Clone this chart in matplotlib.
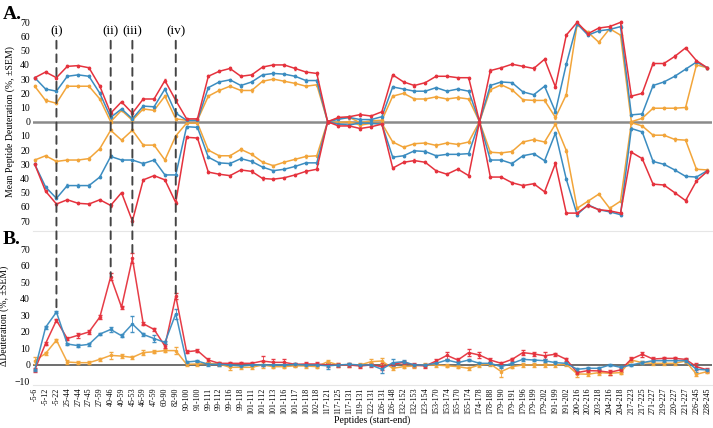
#importing the libraries:
import numpy as np
from matplotlib import pyplot as plt
from matplotlib.patches import ConnectionPatch

plt.rcParams['font.family'] = ['Liberation Serif', 'DejaVu Serif']

#peptide labels (start-end)
peptides = ['-5-6', '-5-12', '-5-22', '25-44', '27-44', '27-45', '27-59', '40-46', '40-59', '45-53',
            '46-59', '47-59', '60-90', '82-90', '90-100', '91-100', '99-111', '99-112', '99-116', '99-118',
            '101-111', '101-112', '101-113', '101-116', '101-117', '101-118', '102-118', '117-121', '117-125',
            '117-131', '119-131', '122-131', '126-131', '126-148', '132-152', '132-153', '123-154', '153-170',
            '153-174', '155-170', '155-174', '174-178', '178-188', '179-190', '179-191', '179-196', '179-199',
            '179-202', '191-199', '191-202', '200-216', '202-216', '203-218', '204-216', '204-218', '217-223',
            '217-225', '271-227', '219-227', '220-227', '221-227', '226-245', '228-245']

#panel A, upper half (mean deuteration, %)
up_red = [31, 35, 31, 39, 39.5, 38, 25, 6, 14, 6, 16, 16, 29, 15, 2, 2, 32, 35.5, 37.5, 32,
          33, 38.5, 40, 40, 37.5, 35, 34, 0, 3, 3.5, 5, 4, 7, 33, 28, 25.5, 27.5, 32, 32, 31,
          31, 0, 36, 38, 40.5, 39, 37.5, 44, 24.5, 61, 70, 62, 66, 67, 70, 18, 20, 41, 41, 46,
          52, 43, 38]
up_blue = [31, 23, 21.5, 32, 33, 32, 20, 3, 9, 2, 11, 10.5, 23, 6, 1, 1, 24, 28, 29.5, 25.5,
           28, 33, 34, 33.5, 32, 29, 29, 0, 1.7, 3, 1.5, 1.5, 3.5, 24.5, 23, 21.5, 21.5, 24, 21.5, 23,
           21.5, 0, 25.5, 28, 27.5, 21, 19, 25, 7, 40.5, 69, 61, 64, 65, 67, 4.8, 5.5, 25.5, 28, 32,
           37, 42, 38]
up_orange = [25, 15, 13, 25, 25, 25, 16, 0, 8, 1, 9, 8, 18, 2, 1, 1, 18, 22, 25, 22,
             22, 28.5, 30, 28.5, 27, 25, 26, 0, 2.5, 3, -0.7, 0.7, 1, 18, 20, 16, 16, 17.5, 16, 17,
             16, 0, 22.5, 26, 22.5, 15.5, 15, 15, 3, 19, 68.5, 63, 56, 65.5, 61, 0, 2.4, 9.5, 9.5, 9.5,
             10, 40, 38]

#panel A, lower half (plotted downwards)
low_red = [30, 49, 58, 55, 57.5, 58, 55, 59, 50, 70, 41, 38, 41, 57, 11, 11.5, 35.5, 37, 38, 34,
           35, 40, 40.5, 39.5, 37.5, 35, 33.5, 0, 3, 3, 4.8, 3.6, 1.7, 32.7, 28.6, 27.4, 28.6, 34.6, 37, 33.4,
           38, 0, 39, 39, 43, 45, 43.7, 49.4, 29.4, 64.4, 64.4, 59, 62, 62.8, 64.4, 21.5, 26, 44, 44.6, 50,
           55.6, 41.8, 35]
low_blue = [30, 46, 54, 45, 45, 45, 39, 24.5, 27, 27, 29.5, 27, 37.5, 37.5, 3.5, 4, 25, 29, 29.5, 26,
            28, 32, 34.5, 33.5, 31.5, 29, 29, 0, 1.7, 2.4, 0.8, 1.2, 1.7, 25, 24, 20.5, 21, 24, 23, 23,
            22.5, 0, 27, 27, 29.5, 24, 22.5, 27.5, 8, 40.5, 65.5, 58.5, 62, 63.5, 65.5, 4.8, 7.2, 28, 30, 34,
            38.5, 39, 34.5]
low_orange = [27, 24, 28, 27, 27, 26, 19, 6, 13, 6, 16.5, 16.5, 27, 10, 1, 1, 20, 24, 24, 19.5,
              23, 28.5, 31, 28.5, 26.5, 24.5, 24, 0, 0.5, 0, 2.4, 1.2, 1.2, 14.3, 18, 15.5, 15, 16.7, 15, 16,
              14.3, 0, 21.5, 22, 21, 14.3, 12.6, 14.3, 1.7, 20.3, 61, 56, 51, 61, 56, 0.7, 3, 9.5, 9.5, 12.5,
              13, 33.5, 34]
sem_a = 0.8

#panel B, difference in deuteration
d_red = [-3, 13, 27, 16, 18, 20, 29, 53.4, 35, 64.5, 25, 21.5, 11.5, 41.7, 8, 8.7, 3, 1, 1, 1,
         1, 2.4, 1.6, 1.6, 0.4, 0.6, 0.6, 0, 0, 0, -0.6, 0, -1, 0.4, 1.6, 0, -0.6, 2.4, 5.8, 3,
         7.5, 6, 3, 1, 3.4, 7.5, 6.7, 5.6, 6.5, 3.4, -4.6, -3.4, -3.6, -4.4, -3, 3.6, 6.5, 3.6, 4, 4,
         3.4, -1, -3]
d_blue = [-3, 22.8, 32, 12.7, 11.7, 12.5, 18.7, 21.5, 17.7, 24.8, 18.5, 16, 13.7, 31, 1.8, 2.4, 0.4, 0.4, 0, -0.6,
          0, 0, 0, 0, 0.3, 0, 0, -0.5, 0, 0.4, 0, 0, -2.6, 1.4, 2, 0, 0, 1, 3, 1.4,
          3, 1, 1, -1, 1, 3.4, 3, 2.6, 1.4, 1, -2.6, -2, -2, 0, -1.4, 0, 1.4, 2.6, 2.6, 2.6,
          2.6, -2.6, -3]
d_orange = [2.6, 7, 15, 1.8, 1.4, 1.4, 3.4, 5.8, 5.4, 4.6, 7.5, 8, 8.7, 8.7, 0.4, 0.6, 1, 0.6, -1.4, -1.4,
            -1.4, 0, -1, -1, -0.5, -0.6, -1, 2, 0, 0, 0, 2, 2.4, -2, -1, -0.6, 0, 0, -0.5, -1,
            -2, 0, 0.6, -4, -1, 0, 0, 0, 0, 0.4, -5.4, -5.6, -4.6, -5, -4.6, 3, 1.4, 1, 1, 1,
            2.4, -5.6, -4]
err_red = [1, 1, 1, 1, 1.5, 1, 1, 2, 1, 3, 1, 1, 1, 2, 1, 1, 1, 1, 1, 1,
           1, 3, 2, 2, 1, 1, 1, 1, 1, 1, 1, 1, 2, 1, 1, 1, 1, 1, 2, 1,
           2, 2, 1, 1, 1, 1.5, 1, 2, 1, 1, 1, 1, 1, 1.5, 1, 1, 1.5, 1, 1, 1,
           1, 2, 1]
err_blue = [0.8, 0.8, 0.8, 0.8, 0.8, 0.8, 0.8, 1.5, 0.8, 5, 1, 2, 0.8, 3, 0.8, 0.8, 0.8, 0.8, 0.8, 0.8,
            0.8, 0.8, 0.8, 0.8, 0.8, 0.8, 0.8, 2, 0.8, 0.8, 0.8, 0.8, 2, 2, 0.8, 0.8, 0.8, 0.8, 0.8, 0.8,
            0.8, 0.8, 0.8, 0.8, 0.8, 0.8, 0.8, 0.8, 0.8, 0.8, 0.8, 0.8, 0.8, 0.8, 0.8, 0.8, 1, 0.8, 0.8, 0.8,
            0.8, 1.5, 0.8]
err_orange = [2, 1, 1, 1, 1, 1, 1, 2, 1, 1, 1.5, 1, 1, 2, 1, 1, 1, 1, 1.5, 1,
              1, 2, 1, 1, 1, 1, 1, 1, 1, 1, 1, 1.5, 2, 1, 1, 1, 1, 1, 1, 1,
              1, 1, 1, 3, 1, 1, 1, 1, 1, 1, 2, 1, 1.5, 1, 1, 1, 1, 1, 1, 1,
              1, 1, 1]

#highlighted peptides (i)-(iv)
marks = ['(i)', '(ii)', '(iii)', '(iv)']
mark_idx = [2, 7, 9, 13]

red, blue, orange = '#e5323d', '#3b8cc0', '#f2a53a'
x = np.arange(len(peptides))

fig = plt.figure(figsize=(7.13, 4.28), dpi=100)
axA = fig.add_axes([0.046, 0.4603, 0.953, 0.5107])
axB = fig.add_axes([0.046, 0.1009, 0.953, 0.3243])

#butterfly plot
axA.axhline(0, color='#8a8a8a', lw=1.8, zorder=1)
for up, low, c in [(up_orange, low_orange, orange), (up_blue, low_blue, blue), (up_red, low_red, red)]:
    axA.errorbar(x, up, yerr=sem_a, color=c, lw=1.1, marker='o', ms=1.6,
                 elinewidth=0.5, capsize=1, ecolor=c, zorder=2)
    axA.errorbar(x, -np.array(low), yerr=sem_a, color=c, lw=1.1, marker='o', ms=1.6,
                 elinewidth=0.5, capsize=1, ecolor=c, zorder=2)
axA.set_xlim(-0.18, 62.46)
axA.set_ylim(-77, 77)
ticks = np.arange(-70, 71, 10)
axA.set_yticks(ticks)
axA.set_yticklabels([str(abs(t)) for t in ticks], fontsize=7)
axA.set_xticks([])
axA.set_ylabel('Mean Peptide Deuteration (%, ±SEM)', fontsize=7, labelpad=4)
for i, m in zip(mark_idx, marks):
    axA.text(i, 63.5, m, ha='center', va='center', fontsize=9.5)

#difference plot
axB.axhline(0, color='#555555', lw=1.2, zorder=1)
for d, e, c in [(d_orange, err_orange, orange), (d_red, err_red, red), (d_blue, err_blue, blue)]:
    axB.errorbar(x, d, yerr=e, color=c, lw=1.1, marker='o', ms=1.6,
                 elinewidth=0.6, capsize=1.2, ecolor=c, alpha=0.95, zorder=2)
axB.set_xlim(-0.18, 62.46)
axB.set_ylim(-12, 72)
axB.set_yticks(np.arange(-10, 71, 10))
axB.tick_params(axis='y', labelsize=7)
axB.set_xticks(x)
axB.set_xticklabels(peptides, rotation=90, fontsize=5.8)
axB.set_ylabel('ΔDeuteration (%, ±SEM)', fontsize=7, labelpad=4)
axB.set_xlabel('Peptides (start-end)', fontsize=7, labelpad=1)

for ax in (axA, axB):
    for s in ['top', 'right', 'left']:
        ax.spines[s].set_visible(False)
    ax.spines['bottom'].set_color('#e6e6e6')
    ax.tick_params(length=0, pad=2)
    ax.patch.set_alpha(0)

#dashed guide lines running from panel A into panel B
for i in mark_idx:
    top = max(d_red[i], d_blue[i], d_orange[i])
    con = ConnectionPatch(xyA=(i, 57), coordsA='data', axesA=axA,
                          xyB=(i, top), coordsB='data', axesB=axB,
                          color='#444444', lw=1.4, linestyle=(0, (4, 3)), zorder=5)
    fig.add_artist(con)

fig.text(0.004, 0.985, 'A.', fontsize=14, fontweight='bold', va='top')
fig.text(0.004, 0.46, 'B.', fontsize=14, fontweight='bold', va='top')

plt.savefig('out.png', dpi=100)
